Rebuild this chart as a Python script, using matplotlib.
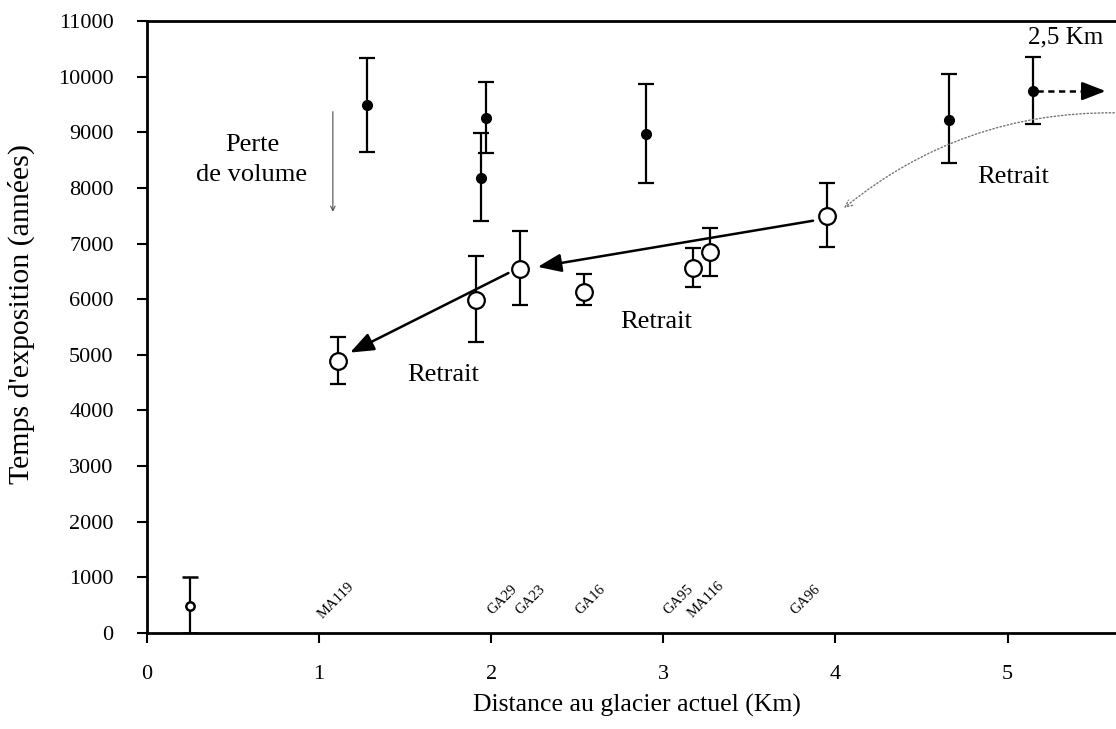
import numpy as np
import matplotlib
matplotlib.use("Agg")
import matplotlib.pyplot as plt

plt.rcParams['font.family'] = ['Liberation Serif', 'DejaVu Serif']

# moraine samples, old (filled) and young (open) populations
old_x = [1.28, 1.94, 1.97, 2.90, 4.66, 5.15]
old_age = [9490, 8180, 9250, 8960, 9220, 9740]
old_lo = [8650, 7410, 8630, 8080, 8440, 9150]
old_hi = [10340, 8990, 9900, 9870, 10040, 10360]

young_x = [1.11, 1.91, 2.17, 2.54, 3.17, 3.27, 3.95]
young_age = [4890, 5990, 6540, 6130, 6560, 6850, 7500]
young_lo = [4480, 5230, 5900, 5890, 6220, 6420, 6940]
young_hi = [5320, 6780, 7230, 6460, 6920, 7280, 8090]

recent_x = [0.25]
recent_age = [490]
recent_lo = [0]
recent_hi = [1000]

sample_names = ['MA119', 'GA29', 'GA23', 'GA16', 'GA95', 'MA116', 'GA96']
sample_x = [1.03, 2.02, 2.18, 2.53, 3.04, 3.18, 3.78]
sample_y = [220, 280, 280, 280, 280, 230, 280]


def yerr(age, lo, hi):
    a, l, h = np.array(age), np.array(lo), np.array(hi)
    return [a - l, h - a]


fig = plt.figure(figsize=(11.16, 7.29), dpi=100)
ax = fig.add_axes([0.1317, 0.1317, 0.8683, 0.8395])

eb = dict(ecolor='black', elinewidth=1.6, capsize=6, capthick=1.6, linestyle='none')
ax.errorbar(old_x, old_age, yerr=yerr(old_age, old_lo, old_hi), fmt='o',
            mfc='black', mec='black', ms=7, zorder=3, **eb)
ax.errorbar(young_x, young_age, yerr=yerr(young_age, young_lo, young_hi), fmt='o',
            mfc='white', mec='black', mew=1.6, ms=12, zorder=3, **eb)
ax.errorbar(recent_x, recent_age, yerr=yerr(recent_age, recent_lo, recent_hi), fmt='o',
            mfc='white', mec='black', mew=1.8, ms=6, zorder=3, **eb)

for name, x, y in zip(sample_names, sample_x, sample_y):
    ax.text(x, y, name, rotation=45, rotation_mode='anchor', ha='left', va='bottom',
            fontsize=10.5)

# retreat arrows
solid = dict(arrowstyle='-|>,head_length=0.9,head_width=0.35', color='black', lw=1.8,
             shrinkA=0, shrinkB=0, mutation_scale=16)
ax.annotate('', xy=(2.27, 6580), xytext=(3.87, 7410), arrowprops=solid)
ax.annotate('', xy=(1.18, 5040), xytext=(2.10, 6470), arrowprops=solid)
ax.annotate('', xy=(4.05, 7640), xytext=(5.62, 9350),
            arrowprops=dict(arrowstyle='->', color='0.45', lw=1.0, linestyle=':',
                            connectionstyle='arc3,rad=0.18', shrinkA=0, shrinkB=0,
                            mutation_scale=12))
# dashed arrow toward the point 2,5 km away
ax.plot([5.17, 5.50], [9740, 9740], color='black', lw=1.8, linestyle=(0, (2.5, 1.8)))
ax.annotate('', xy=(5.57, 9740), xytext=(5.48, 9740), arrowprops=solid)
ax.annotate('', xy=(1.08, 7570), xytext=(1.08, 9370),
            arrowprops=dict(arrowstyle='->', color='0.3', lw=0.8, shrinkA=0, shrinkB=0,
                            mutation_scale=8))

ax.text(0.61, 8500, 'Perte\nde volume', ha='center', va='center', fontsize=19,
        linespacing=1.5)
ax.text(1.72, 4640, 'Retrait', ha='center', va='center', fontsize=19)
ax.text(2.96, 5590, 'Retrait', ha='center', va='center', fontsize=19)
ax.text(5.03, 8200, 'Retrait', ha='center', va='center', fontsize=19)
ax.text(5.34, 10700, '2,5 Km', ha='center', va='center', fontsize=18)

ax.set_xlim(0, 5.63)
ax.set_ylim(0, 11000)
ax.set_xticks(range(0, 6))
ax.set_yticks(range(0, 11001, 1000))
ax.tick_params(direction='out', length=7, width=1.5, labelsize=16)
ax.tick_params(axis='x', pad=16)
ax.tick_params(axis='y', pad=17)
ax.spines['right'].set_visible(False)
for s in ['left', 'top', 'bottom']:
    ax.spines[s].set_linewidth(2)

ax.set_xlabel('Distance au glacier actuel (Km)', fontsize=18.5, va='center')
ax.xaxis.set_label_coords(0.506, -0.118)
ax.set_ylabel("Temps d'exposition (années)", fontsize=21.5, va='center')
ax.yaxis.set_label_coords(-0.130, 0.521)

fig.savefig('out.png', dpi=100, facecolor='white')
